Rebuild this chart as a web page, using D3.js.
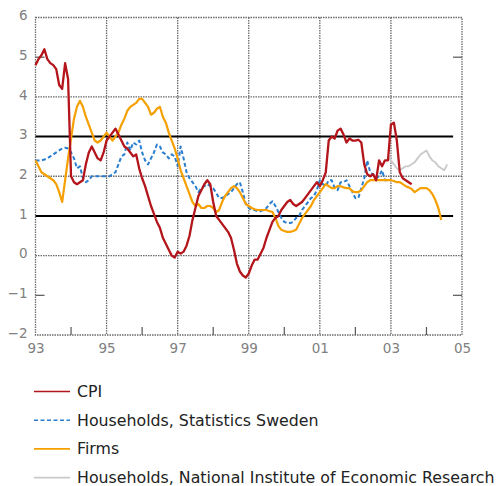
<!DOCTYPE html>
<html>
<head>
<meta charset="utf-8">
<script src="https://cdn.jsdelivr.net/npm/d3@7"></script>
<style>
  html, body { margin: 0; padding: 0; background: #fff; }
  svg { display: block; }
</style>
</head>
<body>
<svg id="chart" width="500" height="486"></svg>
<script>
// Inflation and inflation expectations, per cent, monthly observations

// CPI, annual change, Jan 1993 – Aug 2003
const cpiStart = 1993;
const cpi = [
  4.8, 4.95, 5.05, 5.2, 4.95, 4.85, 4.8, 4.7, 4.3, 4.2, 4.85, 4.45,
  2.0, 1.85, 1.8, 1.85, 1.9, 2.3, 2.6, 2.75, 2.6, 2.45, 2.4, 2.6,
  2.9, 3.0, 3.1, 3.2, 3.05, 2.9, 2.75, 2.7, 2.6, 2.5, 2.55, 2.2,
  1.95, 1.75, 1.5, 1.25, 1.05, 0.85, 0.7, 0.45, 0.3, 0.15, 0.0, -0.05,
  0.1, 0.05, 0.1, 0.25, 0.5, 0.9, 1.2, 1.5, 1.65, 1.8, 1.9, 1.8,
  1.35, 1.0, 0.9, 0.8, 0.7, 0.6, 0.45, 0.15, -0.2, -0.4, -0.5, -0.55,
  -0.45, -0.25, -0.1, -0.1, 0.05, 0.2, 0.45, 0.65, 0.85, 0.95, 1.0, 1.15,
  1.25, 1.35, 1.4, 1.3, 1.25, 1.3, 1.35, 1.45, 1.55, 1.65, 1.75, 1.85,
  1.75, 1.9, 2.1, 2.9, 3.0, 2.95, 3.15, 3.2, 3.05, 2.85, 2.95, 2.9,
  2.9, 2.92, 2.85, 2.3, 2.05, 2.0, 2.05, 1.9, 2.4, 2.25, 2.4, 2.4,
  3.3, 3.35, 2.9, 2.1, 1.95, 1.9, 1.85, 1.8
];

// Households' expected inflation, Statistics Sweden, Jan 1993 – Dec 2002
const hhScbStart = 1993;
const hhScb = [
  2.4, 2.4, 2.4, 2.42, 2.45, 2.5, 2.55, 2.6, 2.65, 2.7, 2.72, 2.7,
  2.6, 2.45, 2.2, 2.25, 1.95, 1.85, 1.9, 2.0, 2.0, 2.0, 2.0, 2.0,
  2.0, 2.0, 2.05, 2.1, 2.3, 2.5, 2.55, 2.85, 2.65, 2.85, 2.8, 2.9,
  2.6, 2.4, 2.3, 2.45, 2.6, 2.8, 2.75, 2.6, 2.55, 2.45, 2.55, 2.5,
  2.25, 2.75, 2.45, 2.1, 1.95, 1.85, 1.75, 1.6, 1.7, 1.75, 1.8, 1.75,
  1.7, 1.58, 1.45, 1.45, 1.5, 1.55, 1.6, 1.7, 1.8, 1.85, 1.6, 1.3,
  1.2, 1.15, 1.15, 1.12, 1.12, 1.15, 1.2, 1.3, 1.37, 1.25, 1.1, 0.95,
  0.85, 0.82, 0.82, 0.85, 0.95, 1.0, 1.15, 1.25, 1.35, 1.45, 1.5, 1.65,
  1.9, 1.8, 1.75, 1.9, 1.9, 1.7, 1.65, 1.85, 1.85, 1.9, 1.75, 1.6,
  1.45, 1.45, 1.7, 1.95, 2.4, 2.1, 2.05, 1.95, 2.0, 2.15, 1.9, 1.9
];

// Firms' expected inflation, Jan 1993 – Jun 2004
const firmsStart = 1993;
const firms = [
  2.4, 2.25, 2.1, 2.05, 2.0, 1.95, 1.9, 1.8, 1.6, 1.35, 1.9, 2.45,
  2.95, 3.45, 3.75, 3.9, 3.75, 3.5, 3.3, 3.1, 2.9, 2.85, 2.9, 3.0,
  3.1, 3.0, 2.9, 3.0, 3.1, 3.3, 3.45, 3.65, 3.75, 3.8, 3.85, 3.95,
  3.95, 3.85, 3.75, 3.55, 3.6, 3.7, 3.75, 3.5, 3.35, 3.1, 2.9, 2.7,
  2.45, 2.15, 1.95, 1.75, 1.55, 1.35, 1.25, 1.3, 1.2, 1.2, 1.25, 1.25,
  1.2, 1.1, 1.15, 1.35, 1.5, 1.6, 1.7, 1.75, 1.7, 1.6, 1.45, 1.3,
  1.25, 1.2, 1.17, 1.15, 1.15, 1.15, 1.15, 1.12, 1.1, 0.95, 0.75, 0.65,
  0.62, 0.6, 0.6, 0.62, 0.65, 0.8, 0.95, 1.05, 1.15, 1.25, 1.4, 1.5,
  1.6, 1.7, 1.8, 1.75, 1.7, 1.7, 1.75, 1.75, 1.72, 1.7, 1.7, 1.62,
  1.6, 1.6, 1.65, 1.75, 1.85, 1.9, 1.9, 1.9, 1.9, 1.9, 1.9, 1.9,
  1.9, 1.88, 1.85, 1.85, 1.8, 1.75, 1.72, 1.68, 1.6, 1.65, 1.7, 1.7,
  1.7, 1.65, 1.55, 1.4, 1.2, 0.9
];

// Households' expected inflation, National Institute of Economic Research, Dec 2002 – Aug 2004
const hhNierStart = 2002 + 11 / 12;
const hhNier = [
  2.5, 2.4, 2.3, 2.2, 2.15, 2.2, 2.25, 2.25, 2.3, 2.35, 2.45, 2.55,
  2.6, 2.65, 2.5, 2.4, 2.35, 2.25, 2.2, 2.15, 2.3
];

// Axis ticks and labels
const xLabelYears = [1993, 1995, 1997, 1999, 2001, 2003, 2005];
const xMinorYears = [1994, 1996, 1998, 2000, 2002, 2004];
const yLabels = [-2, -1, 0, 1, 2, 3, 4, 5, 6];
const yGrid = [0, 2, 4];
const yMinor = [-1, 5];
const targetBand = [1, 3];
const targetBandEnd = 2004.75;

const legendItems = [
  { name: "CPI", color: "#b3151b", dash: null },
  { name: "Households, Statistics Sweden", color: "#2a7ed0", dash: "4,2.5" },
  { name: "Firms", color: "#f5a000", dash: null },
  { name: "Households, National Institute of Economic Research", color: "#c9c9c9", dash: null }
];

const svg = d3.select("#chart");

const x = d3.scaleLinear().domain([1993, 2005]).range([35.5, 462]);
const y = d3.scaleLinear().domain([-2, 6]).range([335, 17.5]);

const gridColor = "#6a6a6a";
const gridDash = "1.5,1";

// vertical grid
svg.append("g").selectAll("line")
  .data(xLabelYears.slice(1, -1))
  .join("line")
  .attr("x1", d => x(d)).attr("x2", d => x(d))
  .attr("y1", y(6)).attr("y2", y(-2))
  .attr("stroke", gridColor).attr("stroke-width", 1.3)
  .attr("stroke-dasharray", gridDash);

// horizontal grid
svg.append("g").selectAll("line")
  .data(yGrid)
  .join("line")
  .attr("x1", x(1993)).attr("x2", x(2005))
  .attr("y1", d => y(d)).attr("y2", d => y(d))
  .attr("stroke", gridColor).attr("stroke-width", 1.3)
  .attr("stroke-dasharray", gridDash);

// frame
svg.append("rect")
  .attr("x", x(1993)).attr("y", y(6))
  .attr("width", x(2005) - x(1993)).attr("height", y(-2) - y(6))
  .attr("fill", "none")
  .attr("stroke", gridColor).attr("stroke-width", 1.3)
  .attr("stroke-dasharray", gridDash);

// minor ticks
svg.append("g").selectAll("line")
  .data(xMinorYears)
  .join("line")
  .attr("x1", d => x(d)).attr("x2", d => x(d))
  .attr("y1", y(-2)).attr("y2", y(-2) - 8)
  .attr("stroke", "#555").attr("stroke-width", 1.2);

svg.append("g").selectAll("line")
  .data(yMinor)
  .join("line")
  .attr("x1", x(1993)).attr("x2", x(1993) + 9)
  .attr("y1", d => y(d)).attr("y2", d => y(d))
  .attr("stroke", "#555").attr("stroke-width", 1.2);

svg.append("g").selectAll("line")
  .data(yMinor)
  .join("line")
  .attr("x1", x(2005) - 9).attr("x2", x(2005))
  .attr("y1", d => y(d)).attr("y2", d => y(d))
  .attr("stroke", "#555").attr("stroke-width", 1.2);

// inflation target band
svg.append("g").selectAll("line")
  .data(targetBand)
  .join("line")
  .attr("x1", x(1993)).attr("x2", x(targetBandEnd))
  .attr("y1", d => y(d)).attr("y2", d => y(d))
  .attr("stroke", "#000").attr("stroke-width", 2);

// axes labels
const labelFont = "'DejaVu Sans', Verdana, sans-serif";
const xAxis = d3.axisBottom(x)
  .tickValues(xLabelYears)
  .tickSize(0).tickPadding(8)
  .tickFormat(d => String(d % 100).padStart(2, "0"));
const gx = svg.append("g").attr("transform", `translate(0,${y(-2)})`).call(xAxis);
gx.select(".domain").remove();
gx.selectAll("text")
  .attr("fill", "#808080")
  .style("font-family", labelFont)
  .style("font-size", "13.5px");

const yAxis = d3.axisLeft(y)
  .tickValues(yLabels)
  .tickSize(0).tickPadding(8)
  .tickFormat(d3.format("d"));
const gy = svg.append("g").attr("transform", `translate(${x(1993)},-2)`).call(yAxis);
gy.select(".domain").remove();
gy.selectAll("text")
  .attr("fill", "#808080")
  .style("font-family", labelFont)
  .style("font-size", "13.5px");

// series
const toPoints = (start, values) => values.map((v, i) => ({ t: start + i / 12, v }));
const line = d3.line().x(d => x(d.t)).y(d => y(d.v));

const series = [
  { pts: toPoints(hhNierStart, hhNier), color: legendItems[3].color, width: 1.8, dash: null },
  { pts: toPoints(hhScbStart, hhScb), color: legendItems[1].color, width: 2, dash: legendItems[1].dash },
  { pts: toPoints(firmsStart, firms), color: legendItems[2].color, width: 2.2, dash: null },
  { pts: toPoints(cpiStart, cpi), color: legendItems[0].color, width: 2.3, dash: null }
];

svg.append("g").selectAll("path")
  .data(series)
  .join("path")
  .attr("d", d => line(d.pts))
  .attr("fill", "none")
  .attr("stroke", d => d.color)
  .attr("stroke-width", d => d.width)
  .attr("stroke-linejoin", "round")
  .attr("stroke-dasharray", d => d.dash);

// legend
const legend = svg.append("g");
const rows = legend.selectAll("g")
  .data(legendItems)
  .join("g")
  .attr("transform", (d, i) => `translate(0,${391.5 + i * 28.7})`);
rows.append("line")
  .attr("x1", 34).attr("x2", 70)
  .attr("y1", 0).attr("y2", 0)
  .attr("stroke", d => d.color)
  .attr("stroke-width", 1.6)
  .attr("stroke-dasharray", d => d.dash);
rows.append("text")
  .attr("x", 77).attr("y", 5.5)
  .attr("fill", "#222")
  .style("font-family", labelFont)
  .style("font-size", "15.8px")
  .text(d => d.name);
</script>
</body>
</html>
